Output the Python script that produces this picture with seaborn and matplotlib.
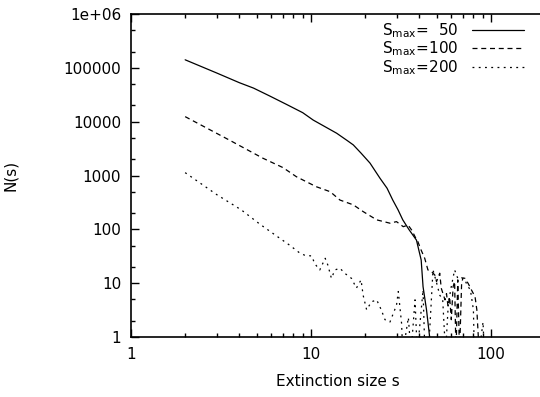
import numpy as np
import pandas as pd
import matplotlib
matplotlib.use("Agg")
import matplotlib.pyplot as plt
import seaborn as sns
from matplotlib.ticker import LogLocator, NullFormatter, FixedLocator, FixedFormatter

# --- data (values below 1 mean "empty bin", drawn to the floor) ---
s50 = [2, 3, 4, 4.8, 5.9, 7.3, 9, 10.3, 13.9, 16, 17.2, 19, 21.3, 24.2, 26.5, 28.5,
       30.5, 32.4, 35, 38.6, 41, 42, 43.9, 45.7, 46.5]
n50 = [141000, 80000, 53000, 42000, 30000, 21000, 14700, 10700, 6100, 4400, 3700, 2600,
       1700, 890, 580, 350, 230, 150, 100, 63, 27, 8.6, 3.2, 1, 0.5]

s100 = [2, 3.5, 5.4, 7, 8.3, 10.7, 12.8, 14.5, 17.2, 19.5, 23.2, 27.5, 29.9, 32.6, 34.7,
        36.3, 37.9, 39.3, 41, 42.9, 44.7, 46.8, 48.8, 49.9, 52, 53, 55.6, 56.7, 57.8, 59,
        60.3, 61.7, 62.9, 64, 65.5, 67, 68.8, 70, 71.8, 74.8, 78, 81.7, 83.6, 85.2, 86]
n100 = [12400, 4600, 2100, 1400, 950, 620, 500, 350, 285, 214, 150, 130, 139, 112, 120,
        97, 73, 59, 41, 29, 17.6, 16.4, 14.2, 10.7, 15.3, 8.1, 4.9, 6.4, 3.7, 5.6,
        2.1, 8.6, 10.7, 0.5, 11.5, 0.5, 10, 12.5, 12.3, 9.9, 7.5, 5.6, 3.2, 1, 0.5]

s200 = [2, 3, 4.1, 5.2, 6.45, 7.6, 8.7, 9.25, 10.1, 10.5, 11.2, 12, 12.4, 13, 13.6, 14.5,
        15.4, 16.8, 17.9, 19, 19.5, 20.4, 21.7, 23.2, 24.6, 25.8, 27.5, 29.9, 30.6, 31.9,
        32.4, 34.8, 36, 37.9, 39, 42, 43, 45, 47.7, 50, 52, 54, 56, 58, 60, 62.9, 65.5,
        68, 71.8, 74, 77, 80, 81, 86, 90.5, 92]
n200 = [1130, 440, 230, 125, 75, 51, 36, 33, 32, 23, 17.6, 29, 22, 12.3, 17.6, 19,
        15.3, 12.3, 8.1, 11.5, 6, 3.2, 4.5, 4.9, 3.2, 2.1, 1.9, 3.9, 7, 1.8,
        0.5, 2.3, 0.5, 4.9, 0.5, 7.5, 0.5, 0.5, 17.6, 10, 6, 5, 0.5, 4, 8, 17.6, 12.3,
        13, 11.5, 9, 7.5, 3.2, 0.5, 0.5, 1.9, 0.5]

labels = [r"S$_{\rm max}$=  50", r"S$_{\rm max}$=100", r"S$_{\rm max}$=200"]
y_ticks = [1, 10, 100, 1000, 10000, 100000, 1000000]
y_ticklabels = ["1", "10", "100", "1000", "10000", "100000", "1e+06"]
x_ticks = [1, 10, 100]
x_ticklabels = ["1", "10", "100"]

sns.set_style("ticks")
plt.rcParams["font.family"] = ["DejaVu Sans"]
plt.rcParams["mathtext.fontset"] = "dejavusans"
plt.rcParams["font.size"] = 11
plt.rcParams["text.color"] = "black"
plt.rcParams["axes.labelcolor"] = "black"

fig = plt.figure(figsize=(5.4, 3.97), dpi=100)
ax = fig.add_axes([131 / 540, 60 / 397, 414 / 540, 323 / 397])

series = [(s50, n50, "-"), (s100, n100, (0, (4, 3))), (s200, n200, (0, (1.5, 3.5)))]
for (s, n, ls), lab in zip(series, labels):
    df = pd.DataFrame({"s": s, "N": n})
    sns.lineplot(data=df, x="s", y="N", ax=ax, color="black", linewidth=0.9,
                 linestyle=ls, label=lab, estimator=None)

ax.set_xscale("log")
ax.set_yscale("log")
ax.set_xlim(1, 200)
ax.set_ylim(1, 1e6)

ax.xaxis.set_major_locator(FixedLocator(x_ticks))
ax.xaxis.set_major_formatter(FixedFormatter(x_ticklabels))
ax.xaxis.set_minor_locator(LogLocator(base=10, subs=np.arange(2, 10)))
ax.xaxis.set_minor_formatter(NullFormatter())
ax.yaxis.set_major_locator(FixedLocator(y_ticks))
ax.yaxis.set_major_formatter(FixedFormatter(y_ticklabels))
ax.yaxis.set_minor_locator(LogLocator(base=10, subs=[2, 5]))
ax.yaxis.set_minor_formatter(NullFormatter())

ax.tick_params(which="both", direction="in", top=True, right=False, colors="black",
               labelcolor="black", labelsize=11, width=1.0)
ax.tick_params(which="major", length=6, pad=7)
ax.tick_params(which="minor", length=3)
for sp in ax.spines.values():
    sp.set_visible(True)
    sp.set_linewidth(1.2)
    sp.set_color("black")

ax.set_xlabel("Extinction size s", fontsize=11, labelpad=9, color="black")
ax.set_ylabel("N(s)", fontsize=11, color="black")
ax.yaxis.set_label_coords(-0.273, 0.5)

leg = ax.legend(loc="upper right", bbox_to_anchor=(524 / 540, 1 - 21 / 397),
                bbox_transform=fig.transFigure, frameon=False, markerfirst=False,
                handlelength=3.4, handletextpad=0.9, labelspacing=0.0, borderpad=0,
                borderaxespad=0, fontsize=11)
for t in leg.get_texts():
    t.set_color("black")

fig.savefig("out.png", dpi=100)
